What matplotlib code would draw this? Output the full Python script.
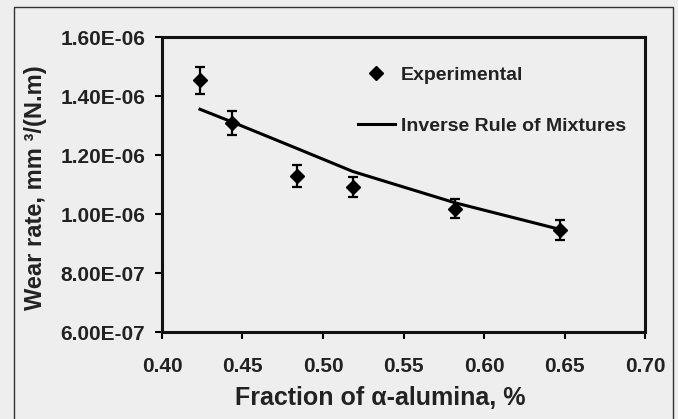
import matplotlib
matplotlib.use("Agg")
import matplotlib.pyplot as plt
from matplotlib.patches import Rectangle
from matplotlib.lines import Line2D

# Data
frac_exp = [0.4236, 0.4435, 0.4839, 0.5186, 0.582, 0.647]
wear_exp = [1.454e-6, 1.308e-6, 1.129e-6, 1.090e-6, 1.018e-6, 0.946e-6]
wear_err = [0.046e-6, 0.041e-6, 0.036e-6, 0.034e-6, 0.032e-6, 0.034e-6]
frac_model = [0.4236, 0.4435, 0.4839, 0.5186, 0.582, 0.647]
wear_model = [1.355e-6, 1.312e-6, 1.222e-6, 1.144e-6, 1.038e-6, 0.948e-6]
xticks = [0.40, 0.45, 0.50, 0.55, 0.60, 0.65, 0.70]
yticks = [6.0e-7, 8.0e-7, 1.0e-6, 1.2e-6, 1.4e-6, 1.6e-6]
ytick_labels = ["6.00E-07", "8.00E-07", "1.00E-06", "1.20E-06", "1.40E-06", "1.60E-06"]
xtick_labels = ["0.40", "0.45", "0.50", "0.55", "0.60", "0.65", "0.70"]

plt.rcParams['font.family'] = ['Liberation Sans', 'DejaVu Sans']
plt.rcParams['font.weight'] = 'bold'

bg = '#efeeef'
W, H = 678, 419
fig = plt.figure(figsize=(6.78, 4.19), dpi=100, facecolor=bg)
ax = fig.add_axes([162/W, 1-332/H, (645-162)/W, (332-37)/H], facecolor=bg)

ax.errorbar(frac_exp, wear_exp, yerr=wear_err, fmt='D', color='black',
            ms=7, elinewidth=1.6, capsize=3.5, capthick=1.6, zorder=3)
ax.plot(frac_model, wear_model, color='black', lw=2.2)

ax.set_xlim(0.40, 0.70)
ax.set_ylim(6.0e-7, 1.6e-6)
ax.set_xticks(xticks)
ax.set_xticklabels(xtick_labels)
ax.set_yticks(yticks)
ax.set_yticklabels(ytick_labels)

for s in ax.spines.values():
    s.set_linewidth(2.2)
    s.set_color('#111111')
ax.tick_params(direction='out', length=5, width=1.5, labelsize=15,
               labelcolor='#222222', top=False, right=False)
ax.tick_params(axis='y', pad=7)
ax.tick_params(axis='x', pad=13)

ax.set_xlabel('Fraction of α-alumina, %', fontsize=18, fontweight='bold', color='#222222')
ax.set_ylabel('Wear rate, mm ³/(N.m)', fontsize=17, fontweight='bold', color='#222222')
ax.xaxis.set_label_coords((380-162)/483, -(398-332)/295)
ax.xaxis.label.set_va('center')
ax.yaxis.set_label_coords((35-162)/483, 0.49)
ax.yaxis.label.set_va('center')

handles = [Line2D([], [], marker='D', ms=7, color='black', ls='none'),
           Line2D([], [], color='black', lw=2.2)]
labels = ['Experimental', 'Inverse Rule of Mixtures']
leg = ax.legend(handles, labels, loc='upper left', bbox_to_anchor=(358/W, 1-66/H),
                bbox_transform=fig.transFigure, frameon=False, fontsize=14,
                handlelength=1.9, handletextpad=0.3, labelspacing=1.75,
                borderpad=0, borderaxespad=0)
for t in leg.get_texts():
    t.set_color('#222222')

fig.patches.append(Rectangle((14/W, -0.01), (673-14)/W, (1-7/H)+0.01,
                             transform=fig.transFigure, fill=False,
                             edgecolor='#333333', lw=1.0))

fig.savefig('out.png', dpi=100, facecolor=bg)
